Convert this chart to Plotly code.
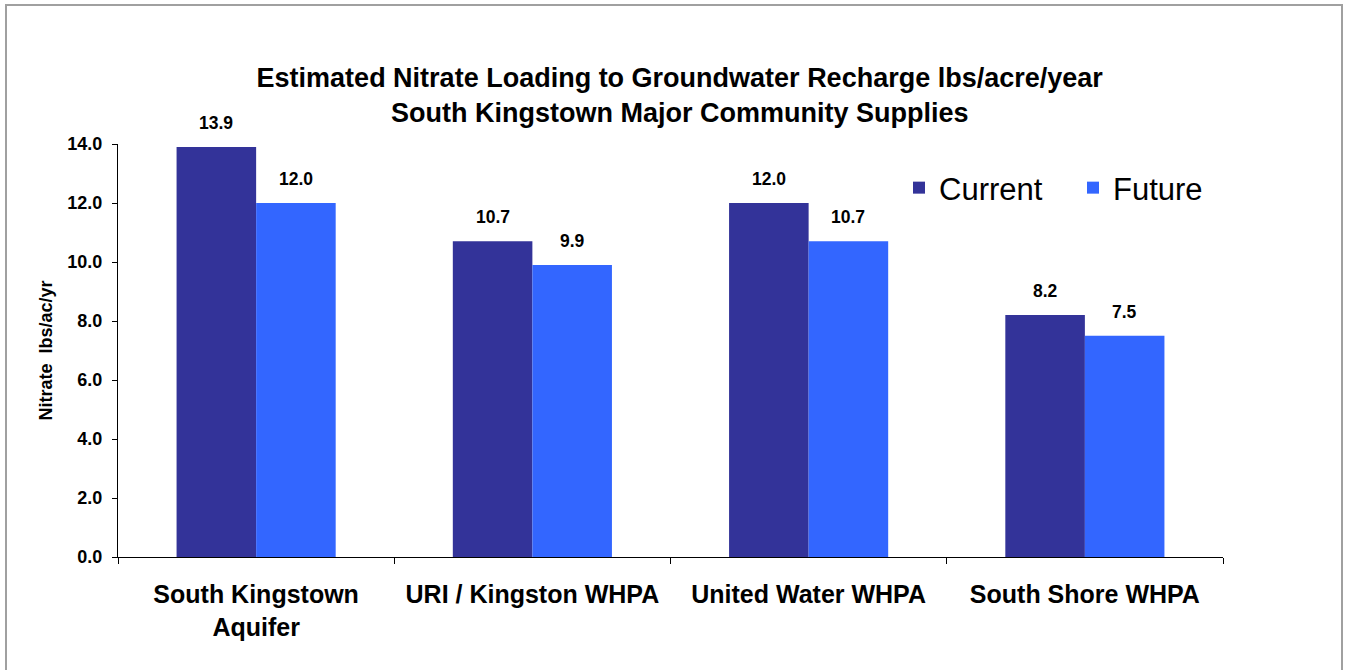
import plotly.graph_objects as go

categories = ["South Kingstown<br>Aquifer", "URI / Kingston WHPA", "United Water WHPA", "South Shore WHPA"]
current = [13.9, 10.7, 12.0, 8.2]
future = [12.0, 9.9, 10.7, 7.5]
y_ticks = [0, 2, 4, 6, 8, 10, 12, 14]

FONT = "Liberation Sans, Arial, sans-serif"

W, H = 1354, 670
L, R, T, B = 118, 131, 144, 113
pw, ph = W - L - R, H - T - B
BARGAP = 0.424
bar_px = pw / len(categories) * (1 - BARGAP) / 2

fig = go.Figure()
fig.add_trace(go.Bar(name="Current", x=categories, y=current, marker_color="#333399", marker_line_width=0))
fig.add_trace(go.Bar(name="Future", x=categories, y=future, marker_color="#3366FF", marker_line_width=0))

annotations = []
for series, shift in ((current, -bar_px / 2), (future, bar_px / 2)):
    for cat, v in zip(categories, series):
        annotations.append(dict(
            x=cat, y=v, xref="x", yref="y", text=f"{v:.1f}", showarrow=False,
            xshift=shift, yshift=12, yanchor="bottom",
            font=dict(family=FONT, size=17.5, color="black", weight="bold"),
        ))

def px(x):
    return (x - L) / pw

def py(y):
    return (H - B - y) / ph

fig.update_layout(
    width=W, height=H,
    margin=dict(l=L, r=R, t=T, b=B),
    paper_bgcolor="white", plot_bgcolor="white",
    font=dict(family=FONT, color="black"),
    barmode="group", bargap=BARGAP, bargroupgap=0,
    title=dict(
        text="Estimated Nitrate Loading to Groundwater Recharge lbs/acre/year<br>South Kingstown Major Community Supplies",
        font=dict(family=FONT, size=27, color="black", weight="bold"),
        x=0.502, xanchor="center", y=1 - 87 / H, yanchor="middle", xref="container", yref="container",
    ),
    legend=dict(
        orientation="h", x=px(899), xanchor="left", y=py(188), yanchor="middle",
        font=dict(family=FONT, size=31, color="black"), bgcolor="rgba(0,0,0,0)",
        entrywidth=129, entrywidthmode="pixels",
    ),
    showlegend=True,
    yaxis=dict(
        range=[0, 14], tickvals=y_ticks, tickformat=".1f",
        showline=True, linecolor="black", linewidth=1,
        ticks="outside", ticklen=5, tickcolor="black", showgrid=False, zeroline=False,
        tickfont=dict(family=FONT, size=18, color="black", weight="bold"), ticklabelstandoff=6,
        title=dict(text="Nitrate  lbs/ac/yr", font=dict(family=FONT, size=18, color="black", weight="bold"), standoff=10),
    ),
    xaxis=dict(
        showline=True, linecolor="black", linewidth=1,
        ticks="outside", ticklen=6, tickcolor="black", tickson="boundaries",
        tickfont=dict(family=FONT, size=25, color="black", weight="bold"), ticklabelstandoff=15,
    ),
    annotations=annotations,
    shapes=[dict(
        type="rect", xref="paper", yref="paper",
        x0=px(6), x1=px(1342), y0=py(700), y1=py(5),
        line=dict(color="#A0A0A0", width=2), fillcolor="rgba(0,0,0,0)", layer="below",
    )],
)

fig.write_html("out.html", config={"displayModeBar": False}, post_script="document.body.style.margin='0';")
